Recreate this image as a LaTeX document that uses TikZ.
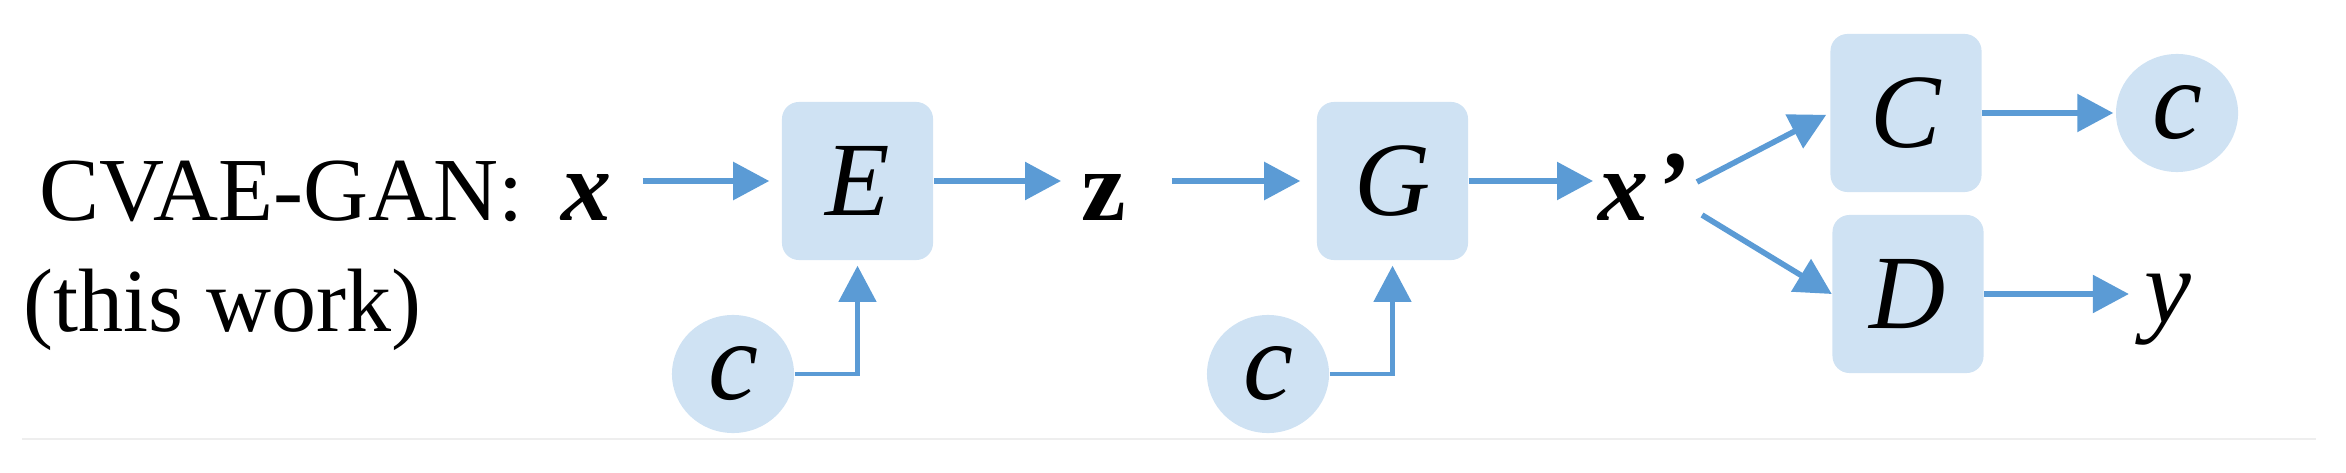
\documentclass[tikz,border=0pt]{standalone}
\usepackage{fontspec}
\setmainfont{Liberation Serif}
\usetikzlibrary{arrows.meta,shapes.geometric}
\definecolor{boxfill}{RGB}{207,226,243}
\definecolor{arrowblue}{RGB}{91,155,213}
\definecolor{rulegray}{RGB}{238,238,238}
\begin{document}
\begin{tikzpicture}[x=0.01cm,y=-0.01cm,
  block/.style={fill=boxfill, rounded corners=0.17cm, minimum width=1.51cm, minimum height=1.58cm, inner sep=0pt, font=\fontsize{30}{30}\selectfont\itshape},
  cnode/.style={fill=boxfill, ellipse, minimum width=1.22cm, minimum height=1.18cm, inner sep=0pt, font=\fontsize{32}{32}\selectfont\itshape},
  lbl/.style={inner sep=0pt, anchor=base west, font=\fontsize{25.6}{30}\selectfont},
  var/.style={inner sep=0pt, anchor=base},
  arr/.style={draw=arrowblue, line width=1.6pt, -{Triangle[length=0.36cm,width=0.37cm]}},
  feed/.style={draw=arrowblue, line width=1.25pt, -{Triangle[length=0.36cm,width=0.37cm]}},
]
\path[use as bounding box] (0,0) rectangle (2346,473);
\node[lbl] (title) at (39,220) {CVAE-GAN:};
\node[lbl] (note) at (23,331) {(this work)};
\node[var, font=\fontsize{28.5}{30}\selectfont\bfseries\itshape] (xin) at (587,220) {x};
\node[block] (E) at (857.5,181) {E};
\node[var, font=\fontsize{28.5}{30}\selectfont\bfseries] (z) at (1104,220) {z};
\node[block] (G) at (1392.5,181) {G};
\node[var, anchor=base west, font=\fontsize{28.5}{30}\selectfont\bfseries\itshape] (xp) at (1598,220) {x\kern0.06em’};
\node[block] (C) at (1906,113) {C};
\node[block] (D) at (1908,294) {D};
\node[cnode] (cout) at (2177,113) {c};
\node[var, font=\fontsize{30}{30}\selectfont\itshape] (y) at (2168,322) {y};
\node[cnode] (c1) at (733,374) {c};
\node[cnode] (c2) at (1268,374) {c};
\coordinate (xpa) at (1697,182);
\coordinate (xpb) at (1702,215);
\draw[arr, shorten <=0.3cm, shorten >=0.12cm] (xin.east |- E.west) -- (E.west);
\draw[arr, shorten >=0.2cm] (E.east) -- (z.west |- E.east);
\draw[arr, shorten <=0.45cm, shorten >=0.16cm] (z.east |- G.west) -- (G.west);
\draw[arr, shorten >=0.05cm] (G.east) -- (xp.west |- G.east);
\draw[arr, shorten >=0.04cm] (xpa) -- (C.west);
\draw[arr] (xpb) -- (D.west);
\draw[arr, shorten >=0.02cm] (C.east) -- (cout.west);
\draw[arr, shorten >=0.15cm] (D.east) -- (y.west |- D.east);
\draw[feed, shorten >=0.05cm] (c1.east) -| (E.south);
\draw[feed, shorten >=0.05cm] (c2.east) -| (G.south);
\draw[draw=rulegray, line width=0.02cm] (22,439) -- (2316,439);
\end{tikzpicture}
\end{document}
